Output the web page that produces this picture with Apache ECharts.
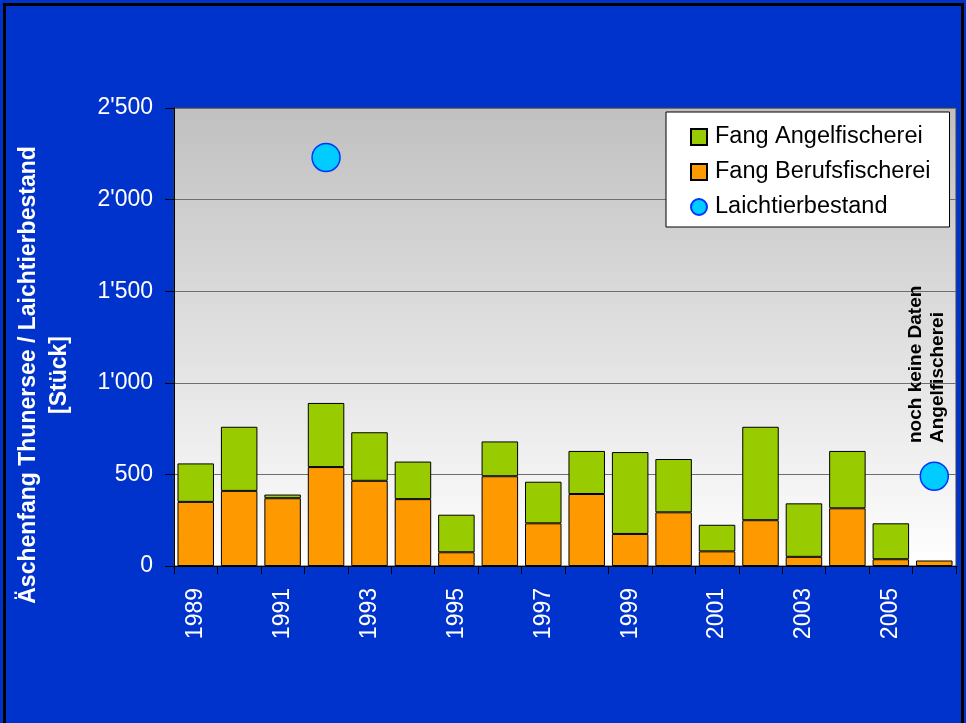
<!DOCTYPE html>
<html>
<head>
<meta charset="utf-8">
<script src="https://cdn.jsdelivr.net/npm/echarts@6/dist/echarts.min.js"></script>
<style>
  html, body { margin: 0; padding: 0; background: #ffffff; }
  #chart { width: 966px; height: 723px; }
</style>
</head>
<body>
<div id="chart"></div>
<script>
// Äschenfang Thunersee: catch by fishery type and spawning stock, 1989–2006
const years = ['1989', '1990', '1991', '1992', '1993', '1994', '1995', '1996', '1997',
               '1998', '1999', '2000', '2001', '2002', '2003', '2004', '2005', '2006'];
const fangBerufsfischerei = [350, 410, 370, 540, 465, 365, 75, 490, 233,
                             393, 175, 293, 80, 250, 50, 315, 37, 30];
const fangAngelfischerei = [210, 350, 20, 350, 265, 205, 205, 190, 227,
                            235, 447, 291, 145, 510, 292, 313, 196, null];
const laichtierbestand = [null, null, null, 2230, null, null, null, null, null,
                          null, null, null, null, null, null, null, null, 490];
const yTicks = { min: 0, max: 2500, interval: 500 };

const FONT = "'Liberation Sans', Arial, sans-serif";

function thousands(v) {
  return String(v).replace(/\B(?=(\d{3})+(?!\d))/g, "'");
}

const chart = echarts.init(document.getElementById('chart'), null, { renderer: 'canvas' });

chart.setOption({
  backgroundColor: '#0033cc',
  animation: false,
  textStyle: { fontFamily: FONT },
  grid: {
    left: 174, right: 10, top: 108, bottom: 157,
    show: true,
    borderColor: '#404040',
    borderWidth: 1,
    backgroundColor: new echarts.graphic.LinearGradient(0, 0, 0, 1, [
      { offset: 0, color: '#c0c0c0' },
      { offset: 1, color: '#ffffff' }
    ])
  },
  legend: {
    orient: 'vertical',
    left: 666, top: 112,
    backgroundColor: '#ffffff',
    borderColor: '#000000',
    borderWidth: 1,
    padding: [13, 19, 8, 24],
    itemWidth: 16, itemHeight: 16, itemGap: 11,
    textStyle: { fontFamily: FONT, fontSize: 23.5, color: '#000000', lineHeight: 24, padding: [0, 0, 0, 3] },
    data: [
      { name: 'Fang Angelfischerei', icon: 'rect' },
      { name: 'Fang Berufsfischerei', icon: 'rect' },
      { name: 'Laichtierbestand', icon: 'circle' }
    ]
  },
  xAxis: {
    type: 'category',
    data: years,
    boundaryGap: true,
    axisLine: { show: true, lineStyle: { color: '#000000', width: 1 } },
    axisTick: { show: true, interval: 0, length: 8, lineStyle: { color: '#000000' } },
    axisLabel: { interval: 1, rotate: 90, color: '#ffffff', fontSize: 23, fontFamily: FONT, margin: 22 },
    splitLine: { show: false }
  },
  yAxis: {
    type: 'value',
    min: yTicks.min, max: yTicks.max, interval: yTicks.interval,
    axisLine: { show: true, lineStyle: { color: '#000000', width: 1 } },
    axisTick: { show: true, length: 9, lineStyle: { color: '#000000' } },
    axisLabel: { color: '#ffffff', fontSize: 23, fontFamily: FONT, margin: 21, formatter: thousands },
    splitLine: { show: true, lineStyle: { color: '#6e6e6e', width: 1 } }
  },
  series: [
    {
      name: 'Fang Berufsfischerei',
      type: 'bar',
      stack: 'fang',
      data: fangBerufsfischerei,
      barCategoryGap: '16%',
      itemStyle: { color: '#ff9900', borderColor: '#000000', borderWidth: 1 }
    },
    {
      name: 'Fang Angelfischerei',
      type: 'bar',
      stack: 'fang',
      data: fangAngelfischerei,
      barCategoryGap: '16%',
      itemStyle: { color: '#99cc00', borderColor: '#000000', borderWidth: 1 }
    },
    {
      name: 'Laichtierbestand',
      type: 'scatter',
      data: laichtierbestand,
      symbol: 'circle',
      symbolSize: 28,
      z: 5,
      itemStyle: { color: '#00ccff', borderColor: '#0033ff', borderWidth: 1.5, opacity: 1 }
    }
  ],
  graphic: [
    {
      type: 'rect',
      silent: true,
      z: 100,
      shape: { x: 4.5, y: 4.5, width: 958, height: 740 },
      style: { fill: null, stroke: '#000000', lineWidth: 3 }
    },
    {
      type: 'text',
      x: 44, y: 375,
      rotation: Math.PI / 2,
      style: {
        text: 'Äschenfang Thunersee / Laichtierbestand\n[Stück]',
        font: 'bold 23px ' + FONT,
        fill: '#ffffff',
        align: 'center',
        verticalAlign: 'middle',
        lineHeight: 31
      }
    },
    {
      type: 'text',
      x: 927, y: 443,
      rotation: Math.PI / 2,
      z: 10,
      style: {
        text: 'noch keine Daten\nAngelfischerei',
        font: 'bold 19px ' + FONT,
        fill: '#000000',
        align: 'left',
        verticalAlign: 'middle',
        lineHeight: 22
      }
    }
  ]
});
</script>
</body>
</html>
